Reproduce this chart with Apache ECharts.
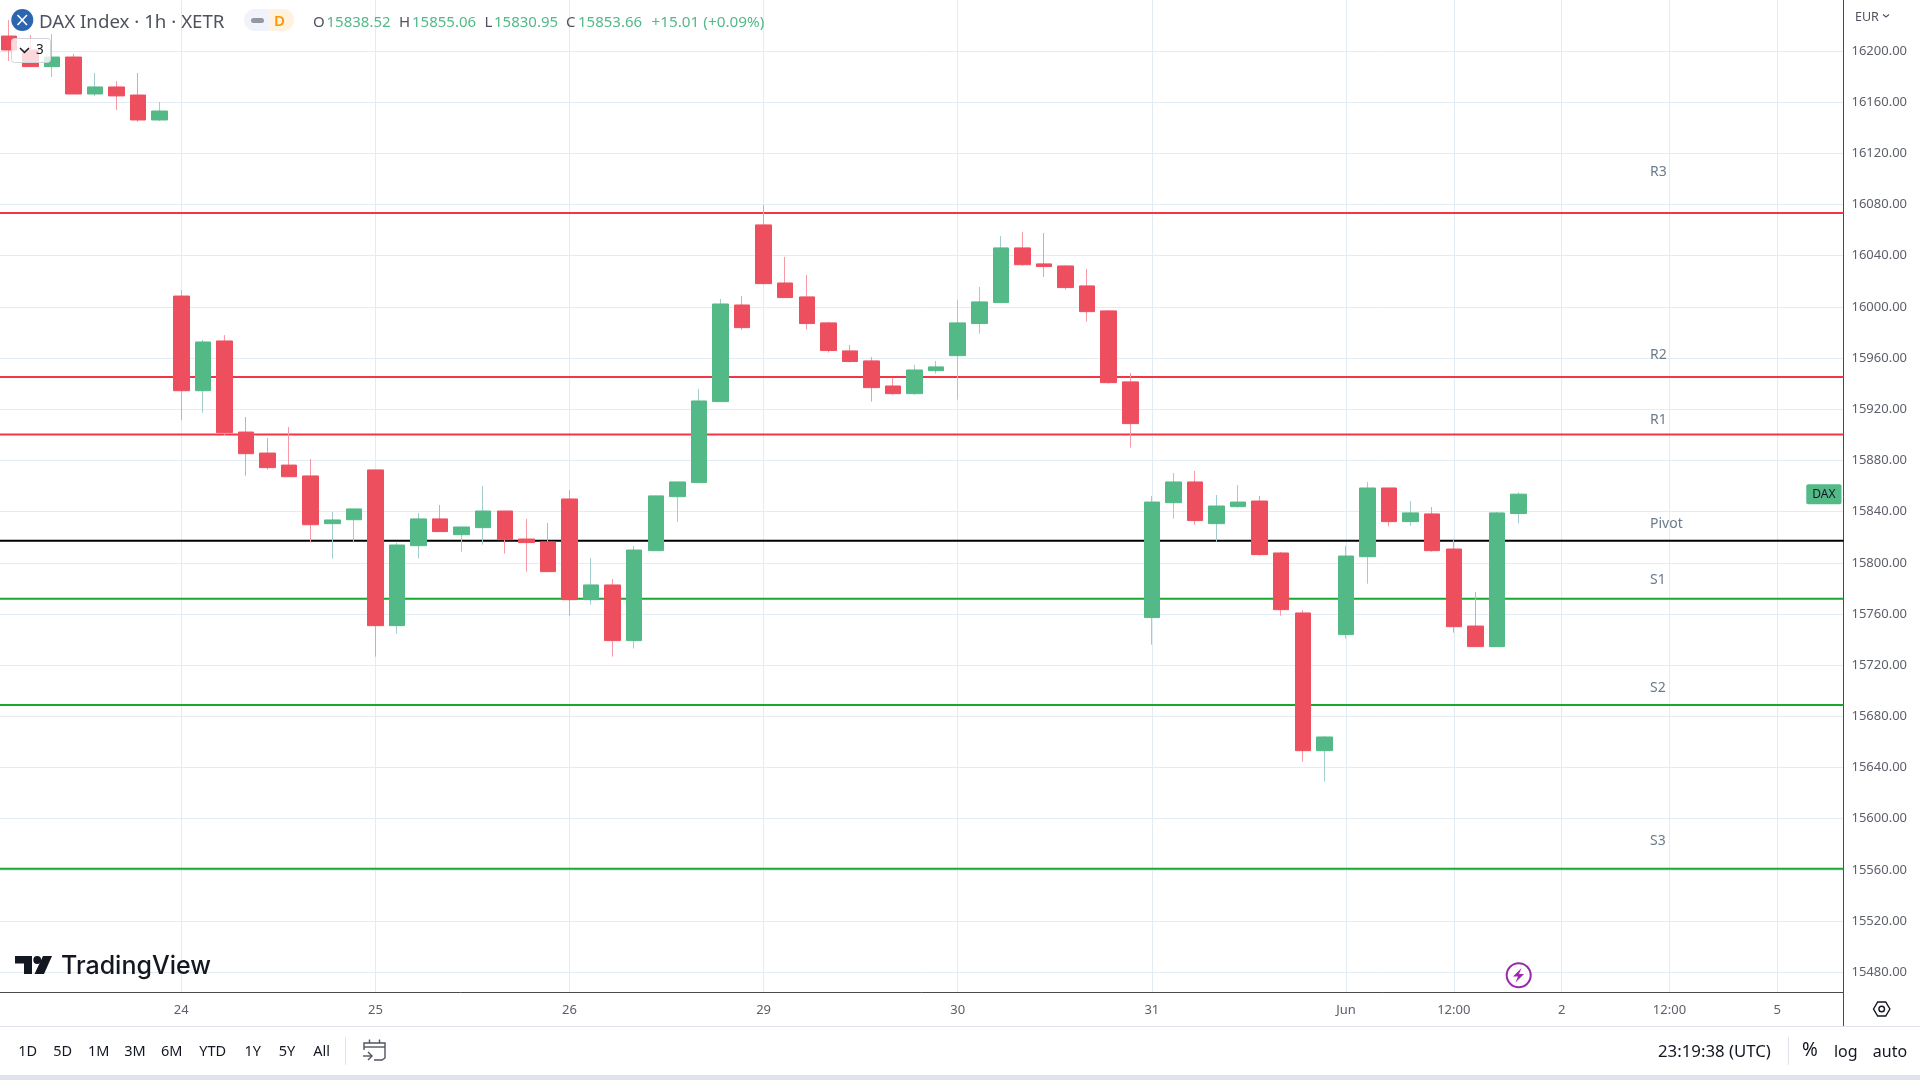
<!DOCTYPE html>
<html>
<head>
<meta charset="utf-8">
<title>DAX Index 1h</title>
<script src="https://cdn.jsdelivr.net/npm/echarts@6/dist/echarts.min.js"></script>
<style>
html, body { margin: 0; padding: 0; background: #fff; }
#chart { width: 1920px; height: 1080px; }
</style>
</head>
<body>
<div id="chart"></div>
<script>
// hourly bars
const opens = [16211.7,16200.8,16187.8,16195.3,16166.4,16171.9,16165.6,16146.1,
  16008.5,15934.5,15973.4,15902.2,15885.8,15876.4,15867.9,15830.6,15833.7,
  15872.6,15750.9,15813.4,15834.3,15822.0,15827.5,15840.5,15818.6,15816.3,
  15849.9,15771.2,15782.7,15739.2,15809.5,15851.7,15862.7,15926.0,16001.5,
  16064.1,16018.7,16007.8,15987.5,15965.6,15957.8,15938.2,15932.2,15950.2,
  15961.9,15987.0,16003.4,16046.1,16033.6,16032.0,16016.4,15996.9,15941.4,
  15757.2,15847.0,15863.2,15830.6,15843.9,15848.3,15807.7,15760.8,15653.2,
  15743.9,15804.8,15858.5,15832.2,15838.2,15810.8,15750.6,15734.5,15838.52];
const closes = [16200.8,16187.8,16195.3,16166.4,16171.9,16164.9,16146.1,16153.1,
  15934.5,15972.6,15901.7,15885.3,15874.4,15867.3,15829.8,15833.5,15842.1,
  15750.9,15813.9,15834.3,15824.4,15828.0,15840.5,15818.1,15815.8,15793.1,
  15771.2,15782.7,15739.2,15810.0,15852.3,15863.2,15926.5,16002.3,15983.8,
  16018.2,16007.3,15987.0,15965.9,15957.3,15936.9,15932.2,15950.7,15953.1,
  15987.5,16003.9,16046.1,16033.0,16031.5,16015.1,15996.3,15940.8,15908.8,
  15847.5,15863.2,15833.0,15844.4,15847.5,15806.4,15763.4,15653.2,15663.9,
  15805.3,15858.5,15832.2,15839.0,15809.5,15750.1,15734.5,15839.0,15853.66];
const lows = [16192.2,16187.8,16179.7,16166.4,16164.9,16153.9,16144.6,16145.3,
  15911.6,15917.3,15899.1,15868.1,15872.8,15867.3,15816.0,15803.3,15816.0,
  15726.7,15744.7,15803.3,15824.4,15808.7,15814.2,15807.2,15793.1,15793.1,
  15758.7,15767.3,15726.7,15733.0,15809.5,15832.2,15862.7,15926.0,15982.0,
  16017.4,16007.3,15982.3,15964.3,15956.5,15926.0,15931.4,15931.4,15947.9,
  15927.6,15979.1,16003.4,16032.2,16023.4,16013.5,15988.5,15940.1,15890.0,
  15736.1,15834.5,15829.8,15816.5,15843.1,15805.6,15758.7,15644.6,15629.0,
  15740.7,15783.7,15828.3,15829.1,15808.7,15745.4,15734.5,15734.5,15830.95];
const highs = [16224.2,16212.5,16213.3,16197.7,16182.8,16176.6,16182.8,16160.2,
  16013.2,15974.1,15978.0,15914.0,15897.6,15906.2,15881.2,15839.7,15842.1,
  15872.6,15815.5,15839.0,15845.2,15828.0,15860.0,15840.5,15834.3,15831.2,
  15856.9,15803.8,15787.4,15813.2,15852.3,15863.2,15935.9,16006.2,16008.6,
  16079.7,16039.1,16025.0,15988.3,15970.3,15960.9,15944.7,15954.7,15957.8,
  16005.4,16015.6,16055.4,16058.6,16057.8,16032.8,16029.7,15997.6,15948.4,
  15852.2,15870.2,15871.8,15853.0,15860.8,15852.2,15808.5,15763.1,15664.7,
  15813.2,15863.2,15858.5,15848.3,15843.6,15818.4,15777.2,15839.7,15855.06];

const priceTicks = [16200,16160,16120,16080,16040,16000,15960,15920,15880,15840,
  15800,15760,15720,15680,15640,15600,15560,15520,15480];
const timeTickBars = [8,17,26,35,44,53,62,67,72,77,82];
const timeTickLabels = ["24","25","26","29","30","31","Jun","12:00","2","12:00","5"];

const levelNames = ["R3","R2","R1","Pivot","S1","S2","S3"];
const levelValues = [16073.4,15945.2,15900.2,15817.3,15772.0,15688.9,15560.9];
const levelColors = ["#f23645","#f23645","#f23645","#000000","#1aa82c","#1aa82c","#1aa82c"];
// the level names sit a little above their lines
const levelLabelValues = [16106.2,15963.5,15912.7,15831.5,15787.4,15703.0,15583.4];
const levelLabelBar = 76.1;

const upColor = "#53b987", downColor = "#ee4f5f";
const upWick = "#a3cdcd", downWick = "#f79aa6";
const textFont = '"Noto Sans", sans-serif';

const W = 1843.5, H = 992.5;
const xMin = -0.406, xMax = 85.07;
const yMin = 15464.2, yMax = 16239.86;

const idx = opens.map((_, i) => i);
const wickData = idx.map(i => [i, opens[i], closes[i], lows[i], highs[i]]);
const bodyData = idx.map(i => [i, opens[i], closes[i],
  Math.min(opens[i], closes[i]), Math.max(opens[i], closes[i])]);

const levelSeries = levelValues.map((v, i) => ({
  type: "line", name: levelNames[i], z: 1, silent: true, symbol: "none",
  lineStyle: { color: levelColors[i], width: 2 },
  data: [[xMin, v], [xMax, v]]
}));

function txt(x, y, text, size, fill, extra) {
  return { type: "text", x, y, silent: true, z: 100, style: Object.assign({
    text, fill, font: `${size}px ${textFont}`, textVerticalAlign: "middle", verticalAlign: "middle"
  }, extra || {}) };
}
function ctxt(x, y, text, size) {
  return txt(x, y, text, size || 14.5, "#131722", { align: "center" });
}
function seg(points, stroke, w) {
  return { type: "polyline", silent: true, z: 100,
    shape: { points }, style: { stroke, fill: null, lineWidth: w || 1.5 } };
}

const chrome = [
  // header
  { type: "circle", silent: true, z: 100, shape: { cx: 22.3, cy: 20, r: 11 }, style: { fill: "#2c66b1" } },
  seg([[17.5, 15], [27, 25]], "#fff", 1.6),
  seg([[27, 15], [17.5, 25]], "#fff", 1.6),
  txt(39, 23, "DAX Index · 1h · XETR", 18.7, "#50535e"),
  { type: "rect", silent: true, z: 100, shape: { x: 244, y: 9, width: 50, height: 22, r: 11 }, style: { fill: "#f0f3fa" } },
  { type: "rect", silent: true, z: 100, shape: { x: 269, y: 9, width: 25, height: 22, r: [0, 11, 11, 0] }, style: { fill: "#fff3e0" } },
  { type: "rect", silent: true, z: 100, shape: { x: 251, y: 18, width: 13, height: 5, r: 2.5 }, style: { fill: "#9598a1" } },
  txt(279.5, 21.5, "D", 14, "#ff9800", { align: "center", font: `600 15px ${textFont}` }),
  txt(313, 23, "O", 15, "#50535e"),
  txt(326.5, 23, "15838.52", 15, upColor),
  txt(399, 23, "H", 15, "#50535e"),
  txt(412, 23, "15855.06", 15, upColor),
  txt(484.5, 23, "L", 15, "#50535e"),
  txt(494, 23, "15830.95", 15, upColor),
  txt(566, 23, "C", 15, "#50535e"),
  txt(578, 23, "15853.66", 15, upColor),
  txt(651.5, 23, "+15.01 (+0.09%)", 15.3, upColor),
  // collapsed indicators box
  { type: "rect", silent: true, z: 100, shape: { x: 11.5, y: 38.5, width: 39, height: 24, r: 3 },
    style: { fill: "rgba(255,255,255,0.78)", stroke: "#d1d4dc", lineWidth: 1 } },
  seg([[20, 48], [24.5, 52.5], [29, 48]], "#131722", 1.5),
  txt(36, 50.5, "3", 13.5, "#131722"),
  // currency
  txt(1855, 17, "EUR", 12.5, "#50535e"),
  seg([[1883, 14.5], [1886, 17], [1889, 14.5]], "#50535e", 1.1),
  // logo
  { type: "polygon", silent: true, z: 100, shape: { points: [[15,956],[32,956],[32,974],[24,974],[24,963.5],[15,963.5]] }, style: { fill: "#131722" } },
  { type: "circle", silent: true, z: 100, shape: { cx: 37.2, cy: 960, r: 3.9 }, style: { fill: "#131722" } },
  { type: "polygon", silent: true, z: 100, shape: { points: [[43,956],[52,956],[44,974],[34.5,974]] }, style: { fill: "#131722" } },
  txt(61, 966, "TradingView", 25, "#131722", { font: `500 25px Inter, ${textFont}` }),
  // news badge
  { type: "circle", silent: true, z: 100, shape: { cx: 1518.7, cy: 975.3, r: 12 }, style: { fill: "#fff", stroke: "#9c27b0", lineWidth: 2 } },
  { type: "polygon", silent: true, z: 100, shape: { points: [[1521.5,968],[1513,976.5],[1518,976.5],[1515.5,982.5],[1524,974],[1519,974]] }, style: { fill: "#9c27b0" } },
  // axis corner
  seg([[1843.5, 992], [1843.5, 1026]], "#4a4a4a", 1),
  { type: "polygon", silent: true, z: 100, shape: { points: [[1873.5,1009],[1877.7,1002],[1885.7,1002],[1889.9,1009],[1885.7,1016],[1877.7,1016]] },
    style: { fill: null, stroke: "#131722", lineWidth: 1.4 } },
  { type: "circle", silent: true, z: 100, shape: { cx: 1881.7, cy: 1009, r: 2.8 }, style: { fill: null, stroke: "#131722", lineWidth: 1.4 } },
  // bottom bar
  seg([[0, 1026.5], [1920, 1026.5]], "#e0e3eb", 1),
  { type: "rect", silent: true, z: 100, shape: { x: 0, y: 1075, width: 1920, height: 5 }, style: { fill: "#e0e3eb" } },
  ctxt(27.7, 1052, "1D"), ctxt(62.7, 1052, "5D"), ctxt(98.7, 1052, "1M"), ctxt(135, 1052, "3M"),
  ctxt(171.7, 1052, "6M"), ctxt(212.7, 1052, "YTD"), ctxt(252.7, 1052, "1Y"), ctxt(287, 1052, "5Y"),
  ctxt(321.7, 1052, "All"),
  seg([[345.5, 1037], [345.5, 1065]], "#e0e3eb", 1),
  seg([[364, 1050], [364, 1043], [385, 1043], [385, 1058], [382, 1060], [374, 1060]], "#50535e", 1.4),
  seg([[364, 1047], [385, 1047]], "#50535e", 1.4),
  seg([[369.5, 1039.5], [369.5, 1043]], "#50535e", 1.4),
  seg([[379.5, 1039.5], [379.5, 1043]], "#50535e", 1.4),
  seg([[363, 1056], [372, 1056]], "#50535e", 1.4),
  seg([[368, 1052], [372, 1056], [368, 1060]], "#50535e", 1.4),
  txt(1658, 1052, "23:19:38 (UTC)", 16.8, "#131722"),
  seg([[1788.5, 1037], [1788.5, 1065]], "#e0e3eb", 1),
  ctxt(1810, 1051, "%", 19), ctxt(1845.7, 1052, "log", 16), ctxt(1890, 1052, "auto", 16)
];

const chart = echarts.init(document.getElementById("chart"));
chart.setOption({
  animation: false,
  backgroundColor: "#fff",
  textStyle: { fontFamily: textFont },
  grid: { left: 0, top: 0, width: W, height: H },
  xAxis: {
    type: "value", min: xMin, max: xMax,
    axisLine: { show: true, onZero: false, lineStyle: { color: "#4a4a4a", width: 1 } },
    axisTick: { show: false, customValues: timeTickBars },
    splitLine: { show: true, lineStyle: { color: "#e3ecf2", width: 1 } },
    axisLabel: {
      customValues: timeTickBars, color: "#5d606b", fontSize: 13, margin: 11,
      formatter: v => timeTickLabels[timeTickBars.indexOf(v)]
    }
  },
  yAxis: {
    type: "value", position: "right", min: yMin, max: yMax, scale: true,
    axisLine: { show: true, onZero: false, lineStyle: { color: "#4a4a4a", width: 1 } },
    axisTick: { show: false, customValues: priceTicks },
    splitLine: { show: true, lineStyle: { color: "#e3ecf2", width: 1 } },
    axisLabel: {
      customValues: priceTicks, color: "#5d606b", fontSize: 13, margin: 8, padding: [2, 0, 0, 0],
      formatter: v => v.toFixed(2)
    }
  },
  series: levelSeries.concat([
    {
      type: "candlestick", name: "wicks", z: 3, silent: true, barWidth: 1,
      encode: { x: 0, y: [1, 2, 3, 4] },
      itemStyle: { color: upWick, color0: downWick, borderColor: upWick, borderColor0: downWick, borderWidth: 1 },
      data: wickData
    },
    {
      type: "candlestick", name: "DAX Index", z: 4, silent: true, barWidth: 16,
      encode: { x: 0, y: [1, 2, 3, 4] },
      itemStyle: { color: upColor, color0: downColor, borderColor: upColor, borderColor0: downColor, borderWidth: 1 },
      data: bodyData
    },
    {
      type: "scatter", name: "level names", z: 5, silent: true, symbolSize: 0, itemStyle: { opacity: 1 },
      label: { show: true, position: "right", distance: 0, offset: [0, 1], color: "#6a7b8c", fontSize: 14, opacity: 1, formatter: p => levelNames[p.dataIndex] },
      data: levelLabelValues.map(v => [levelLabelBar, v])
    },
    {
      type: "scatter", name: "last price tag", z: 6, silent: true, symbolSize: 0, clip: false, itemStyle: { opacity: 1 },
      label: { show: true, position: "left", distance: 2, formatter: "DAX", color: "#131722", fontSize: 12, opacity: 1,
        backgroundColor: upColor, padding: [4, 6], borderRadius: 2 },
      data: [[xMax, closes[closes.length - 1]]]
    }
  ]),
  graphic: chrome
});
</script>
</body>
</html>
